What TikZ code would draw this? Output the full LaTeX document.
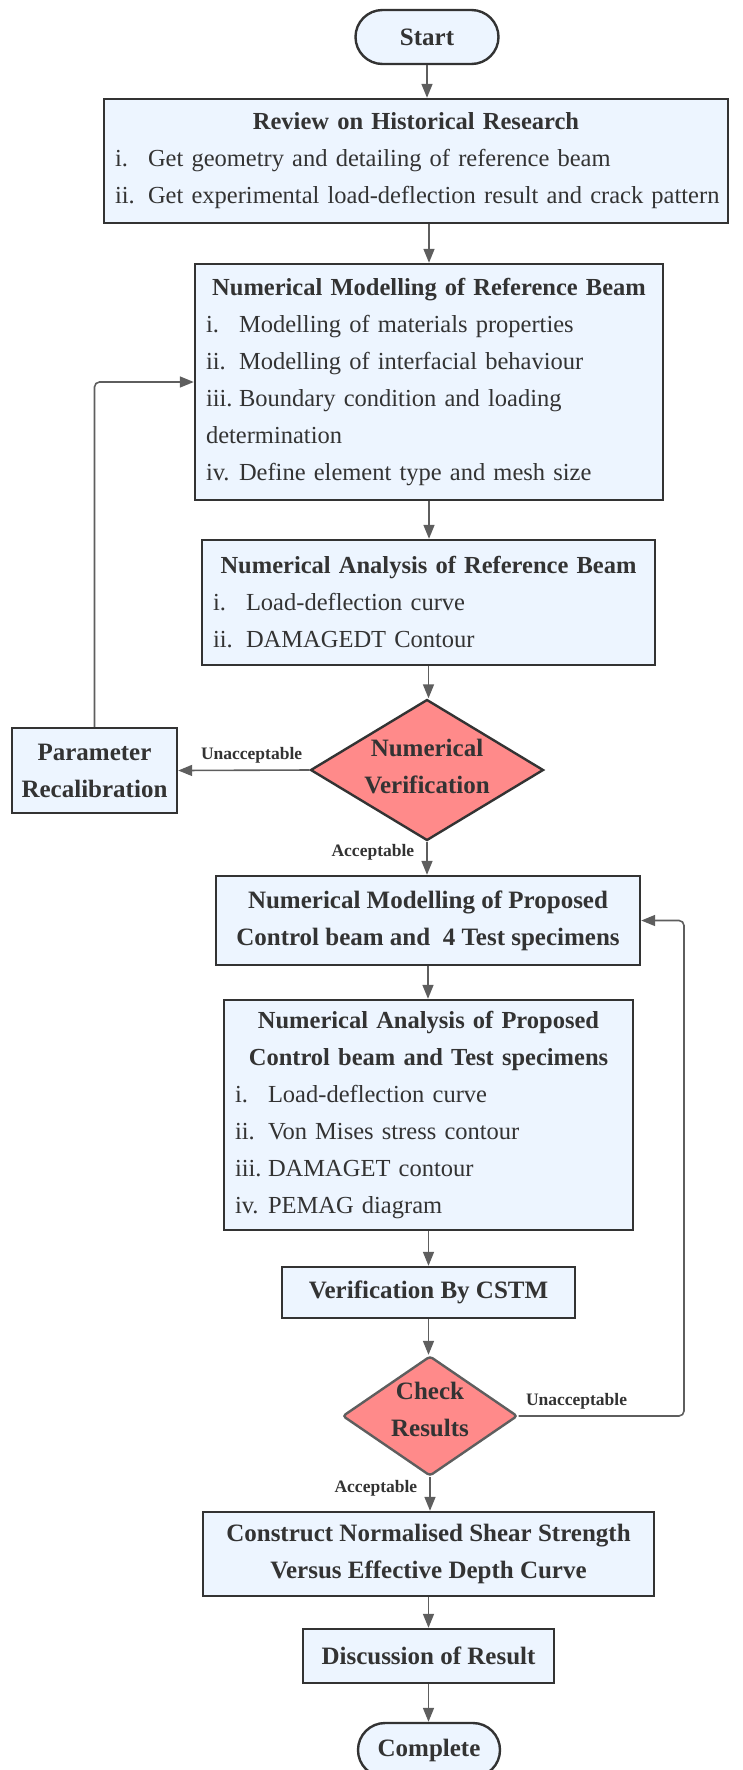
\documentclass[tikz,border=0pt]{standalone}
\usepackage{fontspec}
\setmainfont{Liberation Serif}
\usetikzlibrary{arrows.meta,shapes.geometric}

\definecolor{boxfill}{HTML}{EDF5FF}
\definecolor{ink}{HTML}{333333}
\definecolor{wire}{HTML}{5E5E5E}
\definecolor{decfill}{HTML}{FF8A8A}

% numbered line inside a box
\newcommand{\itm}[2]{\mbox{\makebox[33pt][l]{#1}#2}}

\begin{document}
\begin{tikzpicture}[x=1pt, y=-1pt,
    every node/.style={font=\fontsize{24.5}{37}\selectfont, text=ink},
    head/.style={font=\fontsize{25}{37}\selectfont\bfseries},
    box/.style={draw=ink, line width=2.4pt, fill=boxfill, inner sep=0pt},
    term/.style={box, head, rounded corners=27pt, minimum height=54pt},
    decision/.style={diamond, draw=ink, line width=2.4pt, fill=decfill, inner sep=0pt},
    flow/.style={draw=wire, line width=1.6pt, -{Triangle[length=14pt,width=11pt]}},
    lbl/.style={font=\fontsize{17.5}{20}\selectfont\bfseries, inner sep=2pt}]
    \useasboundingbox (0,0) rectangle (742,1770);

    % Start
    \node[term, minimum width=143pt] (start) at (427,37) {Start};

    % Literature review
    \node[box, minimum width=624pt, minimum height=124pt, text width=602pt, align=left] (review) at (416,161)
        {{\centering\bfseries Review on Historical Research\par}
         \itm{i.}{Get geometry and detailing of reference beam}\\
         \itm{ii.}{Get experimental load-deflection result and crack pattern}};

    % Reference beam: modelling and analysis
    \node[box, minimum width=468pt, minimum height=236pt, text width=446pt, align=left] (nmref) at (429,382)
        {{\centering\bfseries Numerical Modelling of Reference Beam\par}
         \itm{i.}{Modelling of materials properties}\\
         \itm{ii.}{Modelling of interfacial behaviour}\\
         \itm{iii.}{Boundary condition and loading}\\
         determination\\
         \itm{iv.}{Define element type and mesh size}};
    \node[box, minimum width=453pt, minimum height=125pt, text width=431pt, align=left] (naref) at (428.5,602.5)
        {{\centering\bfseries Numerical Analysis of Reference Beam\par}
         \itm{i.}{Load-deflection curve}\\
         \itm{ii.}{DAMAGEDT Contour}};

    % First check
    \node[decision, minimum width=233pt, minimum height=141pt] (verif) at (427,770) {};
    \node[head, align=center] (veriftxt) at (427,767) {Numerical\\Verification};
    \node[box, head, minimum width=165pt, minimum height=85pt, align=center] (param) at (94.5,770.5)
        {Parameter\\Recalibration};

    % Proposed beams
    \node[box, head, minimum width=424pt, minimum height=89pt, align=center] (nmprop) at (428,920.5)
        {Numerical Modelling of Proposed\\Control beam and\ \ 4 Test specimens};
    \node[box, minimum width=409pt, minimum height=230pt, text width=387pt, align=left] (naprop) at (428.5,1115)
        {{\centering\bfseries Numerical Analysis of Proposed\\Control beam and Test specimens\par}
         \itm{i.}{Load-deflection curve}\\
         \itm{ii.}{Von Mises stress contour}\\
         \itm{iii.}{DAMAGET contour}\\
         \itm{iv.}{PEMAG diagram}};
    \node[box, head, minimum width=293pt, minimum height=51pt] (cstm) at (428.5,1292.5) {Verification By CSTM};

    % Second check
    \node[decision, draw=wire, rounded corners=3pt, minimum width=175pt, minimum height=120pt] (check) at (430,1416) {};
    \node[head, align=center] (checktxt) at (430,1409) {Check\\Results};
    \coordinate (rail) at (684,0);

    % Results
    \node[box, head, minimum width=451pt, minimum height=84pt, align=center] (curve) at (428.5,1554)
        {Construct Normalised Shear Strength\\Versus Effective Depth Curve};
    \node[box, head, minimum width=251pt, minimum height=54pt] (discuss) at (428.5,1656) {Discussion of Result};
    \node[term, minimum width=142pt] (complete) at (429,1750) {Complete};

    % Main flow
    \draw[flow] (start.south) -- (start.south |- review.north);
    \draw[flow] (review.south -| nmref.north) -- (nmref.north);
    \draw[flow] (nmref.south) -- (nmref.south |- naref.north);
    \draw[flow] (naref.south) -- (naref.south |- verif.north);
    \draw[flow] (verif.south) -- node[lbl, left=10pt, pos=0.33] (yes1) {Acceptable} (verif.south |- nmprop.north);
    \draw[flow] (nmprop.south) -- (nmprop.south |- naprop.north);
    \draw[flow] (naprop.south) -- (naprop.south |- cstm.north);
    \draw[flow] (cstm.south) -- (cstm.south |- check.north);
    \draw[flow] (check.south) -- node[lbl, left=10pt, pos=0.33] (yes2) {Acceptable} (check.south |- curve.north);
    \draw[flow] (curve.south) -- (curve.south |- discuss.north);
    \draw[flow] (discuss.south) -- (discuss.south |- complete.north);

    % Loops back
    \draw[flow] (verif.west) -- node[lbl, above=4pt, pos=0.44] (no1) {Unacceptable} (param.east);
    \draw[flow, rounded corners=5pt] (param.north) |- (nmref.west);
    \draw[flow, rounded corners=5pt] (check.east) -- node[lbl, above=4pt, pos=0.35] (no2) {Unacceptable}
        (check.east -| rail) |- (nmprop.east);
\end{tikzpicture}
\end{document}
